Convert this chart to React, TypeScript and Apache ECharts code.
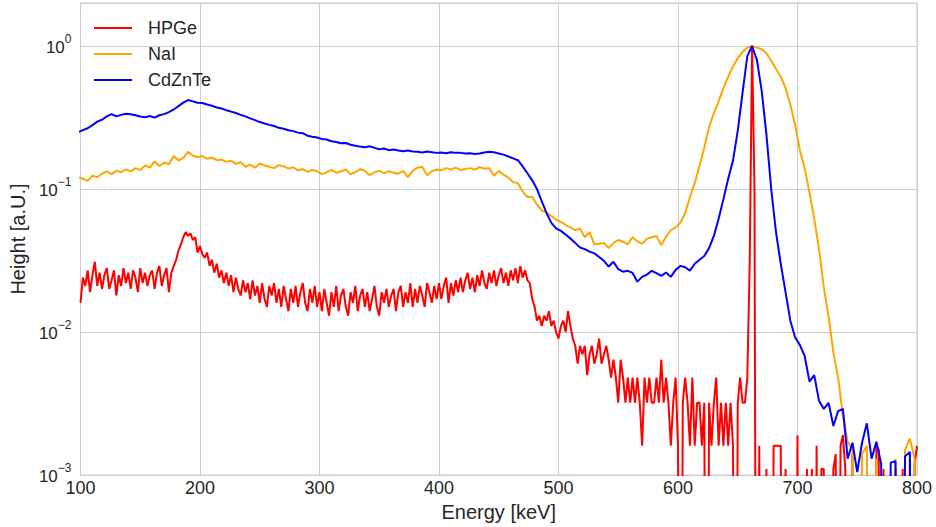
import { useEffect, useRef } from "react";
import * as echarts from "echarts";

// Normalised gamma spectra of a Cs-137 source, heights in units of 1e-3.
// HPGe spectrum: 2 keV bins starting at 100 keV.
const HPGE_START = 100;
const HPGE_STEP = 2;
const hpgeMilli = [
  16, 24, 21, 27, 19, 25, 31, 21, 26, 20,
  25, 28, 20, 23, 27, 18, 25, 21, 28, 22,
  26, 20, 27, 24, 19, 28, 22, 26, 21, 25,
  27, 20, 26, 29, 21, 25, 28, 19, 26, 29,
  32, 37, 41, 46, 50, 47, 49, 44, 46, 36,
  40, 35, 33, 36, 29, 32, 26, 30, 24, 27,
  22, 26, 21, 25, 19, 24, 20, 18, 23, 19,
  22, 17, 23, 18, 21, 16, 22, 17, 15, 21,
  18, 22, 16, 20, 15, 21, 17, 14, 20, 16,
  21, 15, 19, 22, 16, 14, 20, 16, 21, 15,
  19, 14, 20, 16, 13, 19, 15, 21, 14, 18,
  20, 15, 13, 19, 16, 21, 14, 18, 20, 15,
  19, 14, 17, 21, 15, 13, 19, 16, 20, 15,
  18, 20, 14, 19, 21, 15, 19, 16, 22, 15,
  20, 16, 21, 18, 15, 22, 19, 16, 21, 17,
  22, 17, 21, 24, 16, 22, 18, 23, 19, 24,
  19, 23, 26, 20, 24, 19, 25, 21, 27, 22,
  20, 26, 22, 27, 21, 25, 28, 22, 26, 21,
  27, 23, 28, 22, 29, 24, 27, 23, 22, 17,
  15, 12, 13, 11, 13, 12, 14, 11, 12, 10,
  9, 11, 12, 10, 14, 11, 9, 8, 6, 8,
  7, 8, 5, 7, 8, 6, 7, 9, 6, 7,
  8.0, 6.4, 4.8, 6.4, 4.8, 3.2, 6.4, 4.8, 3.2, 4.8,
  3.2, 4.8, 3.2, 4.8, 3.2, 1.6, 4.8, 3.2, 4.8, 3.2,
  3.2, 4.8, 3.2, 6.4, 3.2, 4.8, 3.2, 1.6, 3.2, 4.8,
  1.6, 0, 3.2, 4.8, 3.2, 1.6, 4.8, 1.6, 3.2, 3.2,
  1.6, 3.2, 0, 3.2, 1.6, 3.2, 4.8, 1.6, 3.2, 1.6,
  3.2, 1.6, 3.2, 1.6, 0, 3.2, 4.8, 3.2, 3.2, 4.8,
  30, 1000, 100, 0, 1.6, 0, 0, 1.1, 0, 0,
  1.6, 1.6, 1.6, 1.6, 0, 1.1, 0, 0, 0, 0,
  1.9, 0, 0, 0, 1.1, 0, 1.1, 0, 1.6, 0,
  1.1, 1.1, 0, 0, 0, 1.1, 1.4, 0, 1.6, 1.9,
  1.1, 0, 0, 1.4, 0, 0, 0, 0, 0, 0,
  0, 0, 0, 1.6, 1.5, 0, 1.1, 0, 0, 0,
  0, 1.1, 0, 0, 1.1, 0, 0, 1.3, 0, 1.2,
  1.6,
];

// Scintillator / CdZnTe spectra: 4 keV bins starting at 98 keV.
const SCINT_START = 98;
const SCINT_STEP = 4;
const naiMilli = [
  121, 118, 114, 124, 121, 128, 133, 127, 134, 131,
  137, 133, 140, 136, 146, 141, 156, 145, 153, 149,
  170, 158, 165, 182, 171, 167, 170, 163, 166, 159,
  161, 155, 158, 150, 154, 143, 148, 141, 151, 146,
  143, 140, 147, 144, 139, 142, 135, 138, 132, 136,
  133, 127, 131, 136, 130, 133, 137, 127, 131, 138,
  134, 125, 131, 134, 129, 133, 130, 128, 134, 121,
  134, 141, 143, 125, 133, 137, 135, 140, 137, 141,
  136, 138, 140, 137, 142, 139, 140, 124, 134, 126,
  120, 112, 110, 96, 88, 88, 78, 71, 68, 65,
  61, 59, 56, 54, 51.5, 53, 46, 50, 41, 41.5,
  42, 38.6, 42, 44, 42.8, 41, 46, 43, 41.3, 45,
  46, 47, 40.5, 46.5, 51.5, 54, 58, 68, 88, 110,
  145, 195, 270, 340, 410, 506, 610, 720, 820, 910,
  975, 1000, 975, 950, 890, 790, 690, 610, 510, 390,
  280, 187, 140, 95, 62, 38, 20.6, 12.8, 7.2, 4.8,
  2.6, 1.7, 1.5, 0, 1.4, 1.6, 0, 1.3, 0, 0,
  0, 1.3, 0, 1.5, 1.8, 1.3, 0,
];
const czteMilli = [
  250, 258, 266, 280, 296, 305, 322, 334, 322, 330,
  336, 333, 328, 322, 318, 324, 316, 328, 334, 345,
  360, 380, 402, 419, 410, 401, 400, 390, 382, 372,
  366, 356, 348, 340, 330, 322, 312, 303, 294, 287,
  281, 276, 268, 264, 258, 254, 248, 246, 236, 232,
  229, 224, 222, 216, 213, 209, 210, 204, 201, 198,
  196, 199, 194, 190, 192, 187, 189, 186, 184, 186,
  183, 182, 180, 183, 181, 179, 180, 178, 181, 179,
  179, 177, 178, 176, 177, 180, 182, 181, 177, 174,
  169, 164, 159, 144, 129, 115, 100, 82, 68, 58,
  53, 51, 48, 45, 42, 39, 38, 36.5, 35.5, 33.5,
  31.5, 28.7, 31, 27.5, 26.4, 26.8, 25.9, 22.5, 24.3, 25.2,
  26.8, 25.8, 24.7, 26.1, 24.3, 27.2, 29, 28.4, 26.9, 30,
  32, 34, 38.6, 47, 62, 85, 118, 158, 255, 470,
  850, 1000, 800, 490, 240, 100, 50, 30, 19, 12,
  9.2, 8.1, 6.8, 4.5, 5.0, 3.3, 2.9, 3.2, 2.2, 2.8,
  2.9, 1.3, 1.68, 1.05, 1.68, 2.3, 1.3, 1.71, 1.2, 0,
  1.22, 1.25, 0, 1.35, 1.45, 0, 0,
];

const seriesNames = ["HPGe", "NaI", "CdZnTe"];
const seriesColors = ["#ff0000", "#ffa500", "#0000ff"];

const X_MIN = 100;
const X_MAX = 800;
const X_INTERVAL = 100;
const Y_MIN = 1e-3;
const Y_MAX = 2;

// Empty bins cannot sit on a log axis; push them far below the visible range.
const EMPTY_BIN = 1e-7;

const FONT = "'Liberation Sans', Arial, Helvetica, sans-serif";
const TEXT = "#262626";
const GRID = "#cccccc";

function toPoints(values: number[], start: number, step: number): number[][] {
  return values.map((v, i) => [start + step * i, v > 0 ? v / 1000 : EMPTY_BIN]);
}

function decadeLabel(value: number): string {
  const e = Math.round(Math.log10(value));
  if (Math.abs(value - Math.pow(10, e)) > 1e-9 * Math.pow(10, e)) return "";
  const exp = e < 0 ? "\u2212" + String(-e) : String(e);
  return `{b|10}{s|${exp}}`;
}

export default function App() {
  const ref = useRef<HTMLDivElement>(null);

  useEffect(() => {
    if (!ref.current) return;
    const chart = echarts.init(ref.current, undefined, { renderer: "svg" });
    const data = [
      toPoints(hpgeMilli, HPGE_START, HPGE_STEP),
      toPoints(naiMilli, SCINT_START, SCINT_STEP),
      toPoints(czteMilli, SCINT_START, SCINT_STEP),
    ];

    chart.setOption({
      animation: false,
      backgroundColor: "#ffffff",
      textStyle: { fontFamily: FONT, color: TEXT },
      grid: {
        left: 78,
        right: 19,
        top: 3,
        bottom: 52,
        show: true,
        borderColor: GRID,
        borderWidth: 1,
      },
      legend: {
        data: seriesNames,
        orient: "vertical",
        left: 94,
        top: 18,
        padding: 0,
        itemWidth: 38,
        itemHeight: 2,
        itemGap: 6,
        icon: "rect",
        textStyle: {
          fontFamily: FONT,
          fontSize: 18,
          color: TEXT,
          lineHeight: 20,
          padding: [0, 0, 0, 11],
        },
      },
      xAxis: {
        type: "value",
        min: X_MIN,
        max: X_MAX,
        interval: X_INTERVAL,
        name: "Energy [keV]",
        nameLocation: "middle",
        nameGap: 24,
        nameTextStyle: { fontFamily: FONT, fontSize: 20, color: TEXT },
        axisLine: { show: true, lineStyle: { color: GRID, width: 1 } },
        axisTick: { show: false },
        axisLabel: { fontFamily: FONT, fontSize: 18, color: TEXT, margin: 4 },
        splitLine: { show: true, lineStyle: { color: GRID, width: 1 } },
      },
      yAxis: {
        type: "log",
        logBase: 10,
        min: Y_MIN,
        max: Y_MAX,
        name: "Height [a.U.]",
        nameLocation: "middle",
        nameGap: 50,
        nameTextStyle: { fontFamily: FONT, fontSize: 20, color: TEXT },
        axisLine: { show: true, lineStyle: { color: GRID, width: 1 } },
        axisTick: { show: false },
        axisLabel: {
          margin: 9,
          formatter: decadeLabel,
          rich: {
            b: {
              fontFamily: FONT,
              fontSize: 17,
              lineHeight: 20,
              color: TEXT,
              verticalAlign: "bottom",
            },
            s: {
              fontFamily: FONT,
              fontSize: 12,
              lineHeight: 12,
              color: TEXT,
              padding: [0, 0, 14, 0],
            },
          },
        },
        splitLine: { show: true, lineStyle: { color: GRID, width: 1 } },
        minorTick: { show: false },
      },
      series: seriesNames.map((name, i) => ({
        name,
        type: "line",
        data: data[i],
        showSymbol: false,
        symbol: "none",
        clip: true,
        lineStyle: { color: seriesColors[i], width: 2 },
        itemStyle: { color: seriesColors[i] },
        emphasis: { disabled: true },
      })),
    });

    return () => chart.dispose();
  }, []);

  return (
    <div
      ref={ref}
      style={{ position: "fixed", left: 0, top: 0, width: 936, height: 527 }}
    />
  );
}
